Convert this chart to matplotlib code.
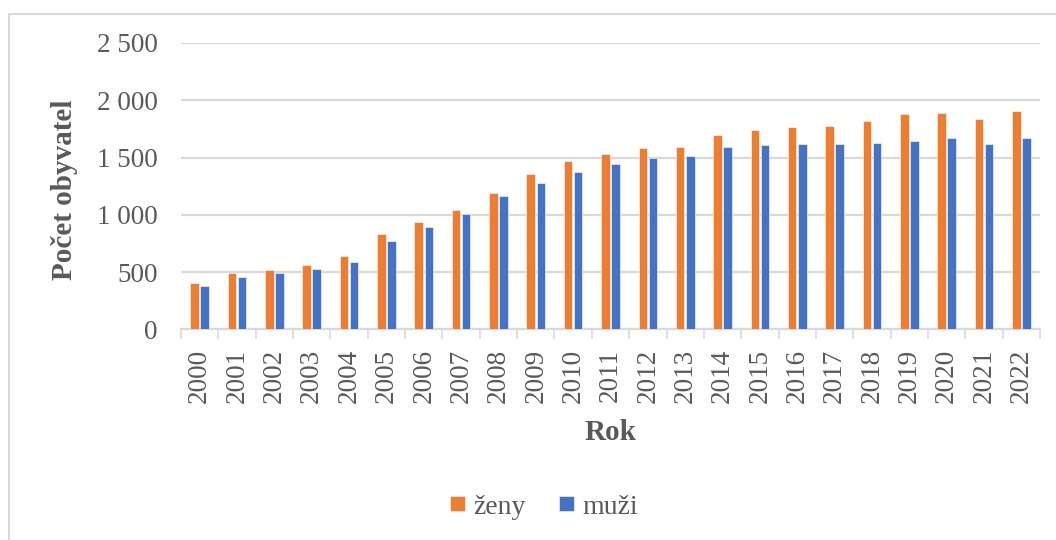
import numpy as np
import matplotlib
matplotlib.use('Agg')
import matplotlib.pyplot as plt
import matplotlib.patches as patches
from matplotlib.ticker import FuncFormatter, FixedLocator

years = [str(y) for y in range(2000, 2023)]
zeny = [402, 492, 518, 562, 643, 829, 940, 1042, 1190, 1353, 1470, 1531,
        1586, 1592, 1694, 1737, 1763, 1772, 1816, 1880, 1886, 1839, 1906]
muzi = [381, 457, 489, 527, 585, 768, 893, 1010, 1164, 1277, 1376, 1440,
        1496, 1516, 1592, 1609, 1615, 1621, 1624, 1647, 1667, 1615, 1667]

ORANGE = '#ED7D31'
BLUE = '#4472C4'
GRID = '#D9D9D9'
TEXT = '#595959'

plt.rcParams['font.family'] = ['Liberation Serif', 'DejaVu Serif']

W, H = 1056, 540
fig = plt.figure(figsize=(W / 100, H / 100), dpi=100)
ax = fig.add_axes([181 / W, 1 - 329.3 / H, (1040 - 181) / W, (329.3 - 43) / H])

x = np.arange(len(years))
bw = 0.23
ax.bar(x - 0.135, zeny, bw, color=ORANGE, edgecolor='white', linewidth=0.4, label='ženy', zorder=3)
ax.bar(x + 0.135, muzi, bw, color=BLUE, edgecolor='white', linewidth=0.4, label='muži', zorder=3)

ax.set_xlim(-0.5, len(years) - 0.5)
ax.set_ylim(0, 2500)
ax.set_yticks(range(0, 2501, 500))
ax.yaxis.set_major_formatter(FuncFormatter(lambda v, p: f"{int(v):,}".replace(',', ' ')))
ax.yaxis.grid(True, color=GRID, linewidth=1.6, zorder=0)
ax.set_axisbelow(True)

ax.set_xticks(x)
ax.set_xticklabels(years, rotation=90)
ax.xaxis.set_minor_locator(FixedLocator(np.arange(-0.5, len(years), 1.0)))
ax.tick_params(axis='x', which='major', length=0, pad=14, labelsize=19.5, labelcolor=TEXT)
ax.tick_params(axis='x', which='minor', length=7, width=1.2, color=GRID)
ax.tick_params(axis='y', length=0, pad=17, labelsize=19.5, labelcolor=TEXT)

for s in ['top', 'right', 'left']:
    ax.spines[s].set_visible(False)
ax.spines['bottom'].set_color(GRID)
ax.spines['bottom'].set_linewidth(1.6)

fig.text(65 / W, 1 - 190 / H, 'Počet obyvatel', rotation=90, ha='center', va='center',
         fontsize=21, fontweight='bold', color=TEXT)
fig.text(610.5 / W, 1 - 432 / H, 'Rok', ha='center', va='center',
         fontsize=21, fontweight='bold', color=TEXT)

leg = fig.legend(loc='center', bbox_to_anchor=(544 / W, 1 - 507 / H), ncol=2, frameon=False,
                 fontsize=20, handlelength=0.55, handleheight=0.45, handletextpad=0.3,
                 columnspacing=1.2)
for t in leg.get_texts():
    t.set_color(TEXT)

fig.add_artist(patches.Rectangle((9 / W, -0.1), 1.2, 1.1 - 14 / H, transform=fig.transFigure,
                                 facecolor='none', edgecolor=GRID, linewidth=1.5))

fig.savefig('out.png', dpi=100)
